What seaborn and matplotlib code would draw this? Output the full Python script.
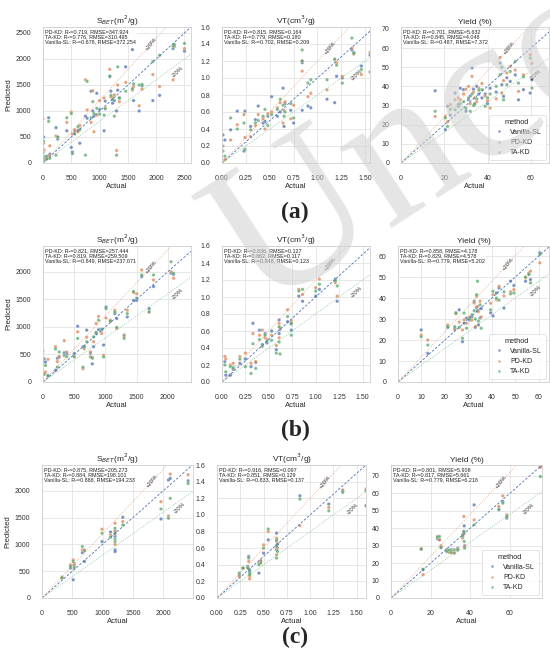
import numpy as np
import pandas as pd
import matplotlib
matplotlib.use('Agg')  # headless
import matplotlib.pyplot as plt
from matplotlib.ticker import MultipleLocator
import seaborn as sns

METHODS = ['Vanilla-SL', 'PD-KD', 'TA-KD']
TEXT_ORDER = ['PD-KD', 'TA-KD', 'Vanilla-SL']
TITLES = ['S$_{BET}$(m$^2$/g)', 'VT(cm$^3$/g)', 'Yield (%)']
ROW_LABELS = ['(a)', '(b)', '(c)']

# ---- row (a) ----
a_bet_act = [0, 10, 20, 60, 100, 120, 230, 260, 420, 500, 520, 560, 620, 650, 750, 780, 850, 880, 900, 950,
             1000, 1080, 1100, 1180, 1200, 1230, 1260, 1300, 1320, 1350, 1460, 1580, 1600, 1700, 1750, 1940, 2060, 2300, 2320, 2500]
a_bet_van = [200, 500, 120, 80, 870, 170, 680, 460, 620, 300, 210, 610, 630, 380, 900, 860, 1380, 1000, 900, 1340,
             1030, 620, 1190, 1660, 1380, 1150, 1200, 1000, 1400, 1250, 1850, 2180, 1200, 1000, 1480, 1200, 1300, 2200, 2250, 2150]
a_bet_pd = [850, 380, 250, 100, 140, 330, 520, 500, 780, 980, 560, 640, 600, 720, 1600, 1020, 780, 1390, 600, 920,
            1200, 1250, 1060, 1800, 1270, 1260, 1310, 240, 1500, 1180, 1550, 1400, 1470, 1100, 1420, 1700, 1470, 1600, 2240, 2200]
a_bet_ta = [100, 420, 60, 130, 800, 90, 150, 500, 870, 950, 180, 560, 700, 640, 150, 1570, 870, 1180, 950, 1050,
            940, 920, 1040, 1670, 1300, 1220, 900, 150, 1850, 1250, 1380, 1430, 1520, 1500, 1510, 1950, 2070, 2250, 2280, 2300]
a_bet_r2 = [0.719, 0.776, 0.678]
a_bet_rmse = [347.924, 310.495, 372.254]

a_vt_act = [0.01, 0.03, 0.09, 0.16, 0.23, 0.24, 0.30, 0.35, 0.38, 0.43, 0.45, 0.48, 0.52, 0.58, 0.61, 0.64,
            0.65, 0.66, 0.72, 0.75, 0.84, 0.84, 0.90, 0.93, 1.10, 1.18, 1.20, 1.26, 1.36, 1.38, 1.46, 1.55]
a_vt_van = [0.33, 0.27, 0.39, 0.61, 0.14, 0.61, 0.43, 0.51, 0.67, 0.47, 0.49, 0.55, 0.78, 0.55, 0.60, 0.88,
            0.43, 0.70, 0.62, 0.47, 1.18, 0.62, 0.67, 0.65, 0.75, 0.71, 1.02, 1.00, 1.33, 1.30, 1.14, 1.27]
a_vt_pd = [0.20, 0.04, 0.27, 0.45, 0.57, 0.30, 0.31, 0.44, 0.57, 0.52, 0.40, 0.58, 0.60, 0.65, 0.71, 0.47,
           0.62, 0.72, 0.52, 0.68, 1.08, 1.20, 0.78, 0.82, 0.86, 1.22, 1.18, 1.02, 1.35, 1.28, 1.04, 1.30]
a_vt_ta = [0.14, 0.08, 0.53, 0.40, 0.47, 0.16, 0.39, 0.47, 0.50, 0.55, 0.63, 0.44, 0.57, 0.63, 0.75, 0.68,
           0.55, 0.60, 0.70, 0.53, 1.33, 1.20, 0.94, 0.98, 0.98, 1.22, 1.15, 0.94, 1.47, 1.29, 1.10, 1.07]
a_vt_r2 = [0.815, 0.779, 0.702]
a_vt_rmse = [0.164, 0.180, 0.209]

a_yield_act = [15.8, 20.5, 21.5, 22.8, 25.0, 26.5, 27.4, 28.9, 30.0, 31.2, 32.0, 32.8, 33.5, 34.0, 35.0, 36.0,
               37.4, 38.9, 40.0, 41.2, 44.0, 45.8, 46.6, 47.4, 48.9, 50.5, 52.8, 54.3, 56.6, 59.7, 60.5]
a_yield_van = [37.7, 17.4, 29.6, 25.0, 36.5, 30.5, 39.0, 38.3, 27.0, 33.0, 35.0, 49.6, 38.5, 30.5, 40.0, 36.0,
               34.0, 36.0, 31.0, 39.0, 37.0, 52.2, 40.9, 34.8, 44.5, 42.6, 46.0, 33.0, 38.3, 36.5, 43.5]
a_yield_pd = [24.3, 24.3, 21.5, 30.5, 33.0, 34.0, 33.0, 36.0, 38.5, 40.0, 31.0, 45.2, 37.0, 34.0, 32.0, 39.0,
              41.5, 35.0, 32.5, 28.7, 33.5, 55.1, 36.5, 43.0, 47.0, 50.4, 48.5, 37.4, 46.0, 56.5, 52.0]
a_yield_ta = [27.0, 23.5, 19.1, 28.0, 27.8, 29.5, 31.0, 32.0, 28.5, 34.0, 27.0, 36.0, 30.0, 31.0, 33.5, 38.0,
              38.3, 29.6, 34.0, 36.0, 40.0, 46.1, 50.0, 33.0, 40.9, 47.8, 53.0, 41.7, 45.0, 54.8, 39.1]
a_yield_r2 = [0.701, 0.845, 0.487]
a_yield_rmse = [5.632, 4.048, 7.372]

# ---- row (b) ----
b_bet_act = [0, 20, 40, 80, 200, 230, 260, 340, 380, 500, 555, 640, 660, 700, 760, 790, 810, 850, 890, 940,
             970, 1010, 1080, 1150, 1180, 1300, 1350, 1450, 1500, 1580, 1700, 1770, 2050, 2090]
b_bet_van = [380, 420, 360, 120, 210, 430, 460, 530, 515, 515, 1010, 640, 630, 940, 520, 330, 640, 880, 950, 940,
             670, 1360, 1120, 1240, 1150, 850, 1180, 1480, 1480, 1910, 1330, 1730, 1970, 1950]
b_bet_pd = [560, 150, 180, 410, 640, 370, 450, 750, 545, 470, 910, 240, 600, 810, 545, 450, 730, 1060, 1190, 880,
            485, 1160, 1110, 1300, 970, 830, 1300, 1620, 1600, 2030, 1270, 1850, 2000, 1880]
b_bet_ta = [430, 140, 300, 110, 600, 270, 545, 480, 460, 455, 790, 270, 640, 730, 455, 430, 820, 900, 1120, 960,
            455, 1330, 1100, 1270, 990, 790, 1240, 1640, 1520, 1940, 1270, 1940, 2180, 1970]
b_bet_r2 = [0.821, 0.819, 0.849]
b_bet_rmse = [257.444, 259.509, 237.071]

b_vt_act = [0.03, 0.04, 0.09, 0.12, 0.19, 0.25, 0.31, 0.33, 0.36, 0.40, 0.43, 0.46, 0.48, 0.53,
            0.58, 0.61, 0.61, 0.62, 0.70, 0.74, 0.74, 0.82, 0.86, 1.00, 1.04, 1.21, 1.23]
b_vt_van = [0.24, 0.08, 0.08, 0.15, 0.22, 0.27, 0.18, 0.69, 0.23, 0.61, 0.44, 0.57, 0.46, 0.60,
            0.38, 0.73, 0.57, 0.62, 0.71, 0.61, 0.68, 1.01, 0.95, 1.01, 1.09, 1.21, 0.95]
b_vt_pd = [0.30, 0.27, 0.20, 0.22, 0.30, 0.34, 0.22, 0.57, 0.24, 0.55, 0.61, 0.52, 0.50, 0.55,
           0.43, 0.69, 0.52, 0.64, 0.85, 0.69, 0.72, 1.09, 1.03, 1.11, 1.21, 1.17, 1.01]
b_vt_ta = [0.20, 0.12, 0.18, 0.17, 0.27, 0.18, 0.10, 0.45, 0.16, 0.50, 0.42, 0.55, 0.48, 0.49,
           0.34, 0.65, 0.47, 0.33, 0.77, 0.55, 0.69, 1.07, 1.09, 1.07, 1.15, 1.19, 1.13]
b_vt_r2 = [0.836, 0.862, 0.848]
b_vt_rmse = [0.127, 0.117, 0.123]

b_yield_act = [9.9, 12.7, 21.2, 24.2, 24.7, 26.1, 27.5, 28.2, 29.2, 30.5, 31.5, 32.5, 33.0, 33.5, 33.9,
               34.3, 35.0, 35.5, 39.5, 40.5, 42.0, 43.1, 45.2, 48.0, 49.4, 54.4, 55.8, 56.5, 60.5]
b_yield_van = [24.8, 13.6, 26.0, 25.5, 33.0, 34.4, 19.2, 28.0, 30.4, 29.5, 31.0, 38.4, 26.0, 35.5, 34.0,
               27.2, 30.5, 35.0, 33.0, 31.5, 42.4, 44.8, 35.2, 48.0, 46.0, 48.0, 51.5, 48.8, 61.6]
b_yield_pd = [22.4, 20.0, 27.2, 25.0, 32.5, 28.5, 24.8, 29.6, 28.0, 31.0, 29.5, 37.6, 26.4, 40.8, 36.0,
              33.5, 38.5, 31.0, 37.5, 41.6, 39.2, 45.6, 41.0, 43.0, 44.0, 49.6, 52.0, 52.8, 56.8]
b_yield_ta = [21.6, 17.6, 26.4, 26.4, 32.8, 26.0, 20.8, 32.8, 25.6, 30.0, 32.0, 34.0, 30.0, 41.6, 48.0,
              29.0, 36.8, 25.6, 34.4, 43.2, 40.0, 39.0, 43.0, 42.0, 42.4, 50.0, 51.2, 47.2, 60.8]
b_yield_r2 = [0.858, 0.829, 0.779]
b_yield_rmse = [4.178, 4.578, 5.202]

# ---- row (c) ----
c_bet_act = [329, 470, 515, 532, 665, 700, 990, 1130, 1205, 1205, 1205, 1205, 1332, 1962, 2085, 2115, 2410]
c_bet_van = [380, 557, 340, 600, 848, 681, 1052, 1230, 1238, 1150, 898, 867, 1505, 1474, 2200, 2230, 2186]
c_bet_pd = [390, 620, 712, 638, 898, 898, 1282, 1176, 1393, 1250, 1000, 1200, 1424, 1796, 1529, 2310, 2300]
c_bet_ta = [372, 588, 681, 560, 960, 880, 1207, 1133, 1300, 1205, 1052, 1100, 1362, 1659, 1486, 1858, 2136]
c_bet_r2 = [0.875, 0.884, 0.888]
c_bet_rmse = [205.273, 198.101, 194.233]

c_vt_act = [0.24, 0.28, 0.33, 0.34, 0.35, 0.35, 0.45, 0.47, 0.50, 0.55, 0.64, 0.64, 0.64, 0.65, 0.89, 1.20, 1.35, 1.60]
c_vt_van = [0.28, 0.36, 0.38, 0.50, 0.34, 0.30, 0.30, 0.44, 0.54, 0.70, 0.78, 0.58, 0.63, 0.65, 1.23, 1.13, 1.29, 1.11]
c_vt_pd = [0.26, 0.36, 0.36, 0.44, 0.26, 0.23, 0.42, 0.45, 0.64, 0.80, 0.72, 0.52, 0.68, 0.60, 0.87, 1.09, 1.30, 1.31]
c_vt_ta = [0.30, 0.36, 0.36, 0.48, 0.32, 0.28, 0.40, 0.42, 0.60, 0.83, 0.70, 0.62, 0.48, 0.56, 1.19, 1.05, 1.27, 1.29]
c_vt_r2 = [0.916, 0.851, 0.833]
c_vt_rmse = [0.097, 0.129, 0.137]

c_yield_act = [15.3, 16.2, 23.5, 24.5, 25.3, 28.2, 29.5, 30.5, 32.0, 33.7, 36.2, 36.8, 37.0, 37.2, 42.0, 54.5, 56.5, 58.5, 75.5]
c_yield_van = [28.0, 16.2, 34.0, 33.4, 29.0, 27.7, 26.5, 27.7, 26.0, 28.6, 36.3, 38.0, 41.4, 30.0, 53.4, 51.0, 55.3, 45.8, 75.4]
c_yield_pd = [28.3, 13.4, 35.3, 33.4, 30.0, 27.0, 26.1, 27.0, 25.8, 28.0, 34.4, 46.8, 37.0, 29.6, 44.8, 52.5, 58.6, 47.7, 75.0]
c_yield_ta = [28.0, 16.5, 35.0, 35.3, 29.0, 26.7, 27.5, 26.0, 27.7, 27.5, 35.5, 38.2, 32.4, 28.6, 42.0, 50.6, 54.4, 46.8, 69.7]
c_yield_r2 = [0.801, 0.817, 0.779]
c_yield_rmse = [5.908, 5.661, 6.218]

ROWS = [
    [(a_bet_act, a_bet_van, a_bet_pd, a_bet_ta, a_bet_r2, a_bet_rmse),
     (a_vt_act, a_vt_van, a_vt_pd, a_vt_ta, a_vt_r2, a_vt_rmse),
     (a_yield_act, a_yield_van, a_yield_pd, a_yield_ta, a_yield_r2, a_yield_rmse)],
    [(b_bet_act, b_bet_van, b_bet_pd, b_bet_ta, b_bet_r2, b_bet_rmse),
     (b_vt_act, b_vt_van, b_vt_pd, b_vt_ta, b_vt_r2, b_vt_rmse),
     (b_yield_act, b_yield_van, b_yield_pd, b_yield_ta, b_yield_r2, b_yield_rmse)],
    [(c_bet_act, c_bet_van, c_bet_pd, c_bet_ta, c_bet_r2, c_bet_rmse),
     (c_vt_act, c_vt_van, c_vt_pd, c_vt_ta, c_vt_r2, c_vt_rmse),
     (c_yield_act, c_yield_van, c_yield_pd, c_yield_ta, c_yield_r2, c_yield_rmse)],
]

# layout (pixel boxes: left, top, right, bottom) and axis limits
BOXES = [
    [(43, 27, 191, 163), (222, 27, 370, 163), (401, 27, 549, 163)],
    [(43, 246, 191, 382), (222, 246, 370, 382), (398, 246, 549, 382)],
    [(42, 465, 193, 598), (217, 465, 366, 598), (391, 465, 542, 598)],
]
LIMS = [
    [(2615, 2615), (1.55, 1.6), (68.4, 71)],
    [(2370, 2465), (1.58, 1.6), (64.4, 64.8)],
    [(2490, 2480), (1.6, 1.6), (76.3, 76.3)],
]
STEPS = [
    [(500, 500), (0.25, 0.2), (20, 10)],
    [(500, 500), (0.25, 0.2), (10, 10)],
    [(500, 500), (0.25, 0.2), (20, 10)],
]
LABEL_Y = [212, 430, 637]

sns.set_theme(style='whitegrid', rc={
    'axes.edgecolor': '#cfcfcf', 'axes.linewidth': 0.6,
    'grid.color': '#e3e3e3', 'grid.linewidth': 0.6,
    'xtick.color': '#333333', 'ytick.color': '#333333',
})
plt.rcParams['font.family'] = ['Liberation Sans', 'DejaVu Sans']
pal = sns.color_palette('deep', 3)
PAL = dict(zip(METHODS, pal))

W, H = 550, 657
fig = plt.figure(figsize=(5.5, 6.57), dpi=100)


def draw_panel(ax, act, van, pd_, ta, r2, rmse, title, lims, steps, first, last):
    df = pd.DataFrame({
        'Actual': act * 3,
        'Predicted': van + pd_ + ta,
        'method': [m for m in METHODS for _ in act],
    })
    sns.scatterplot(data=df, x='Actual', y='Predicted', hue='method', hue_order=METHODS,
                    palette=PAL, s=6, alpha=0.75, linewidth=0.2, edgecolor='white',
                    ax=ax, legend=last)
    xm, ym = lims
    xs = np.array([0, xm])
    ax.plot(xs, xs, ls='--', color=pal[0], lw=0.6, dashes=(3, 2))  # y=x
    ax.plot(xs, 1.2 * xs, ls=':', color=pal[1], lw=0.6, alpha=0.7)  # +20
    ax.plot(xs, 0.8 * xs, ls=':', color=pal[2], lw=0.6, alpha=0.7)  # -20
    x1 = 0.73 * xm
    ax.text(x1, 1.2 * x1, '+20%', fontsize=4.3, rotation=52, ha='center', va='center', color='#333333')
    x2 = 0.91 * xm
    ax.text(x2, 0.8 * x2 - 0.055 * ym, '-20%', fontsize=4.3, rotation=45, ha='center', va='center', color='#333333')

    by = dict(zip(TEXT_ORDER, zip(r2, rmse)))
    lines = [f'{m}: R\u00b2={by[m][0]:.3f}, RMSE={by[m][1]:.3f}' for m in TEXT_ORDER]
    ax.text(0.015, 0.985, '\n'.join(lines), transform=ax.transAxes, va='top', ha='left',
            fontsize=3.9, linespacing=1.05, color='#222222',
            bbox=dict(facecolor='white', edgecolor='none', alpha=0.8, pad=0.6))

    ax.set_xlim(0, xm)
    ax.set_ylim(0, ym)
    ax.xaxis.set_major_locator(MultipleLocator(steps[0]))
    ax.yaxis.set_major_locator(MultipleLocator(steps[1]))
    ax.tick_params(labelsize=5, pad=2.5)
    ax.set_title(title, fontsize=6, pad=2.5)
    ax.set_xlabel('Actual', fontsize=5.5, labelpad=1)
    ax.set_ylabel('Predicted' if first else '', fontsize=5.5, labelpad=2)
    if last:
        leg = ax.legend(loc='lower right', title='method', fontsize=5, title_fontsize=5.3,
                        markerscale=0.8, frameon=True, handletextpad=0.6, borderpad=0.5,
                        labelspacing=0.45)
        leg.get_frame().set_linewidth(0.5)
        leg.get_frame().set_edgecolor('#cfcfcf')


for i, row in enumerate(ROWS):
    for j, (act, van, pd_, ta, r2, rmse) in enumerate(row):
        l, t, r, b = BOXES[i][j]
        ax = fig.add_axes([l / W, 1 - b / H, (r - l) / W, (b - t) / H])
        draw_panel(ax, act, van, pd_, ta, r2, rmse, TITLES[j], LIMS[i][j], STEPS[i][j], j == 0, j == 2)
    fig.text(295 / W, 1 - LABEL_Y[i] / H, ROW_LABELS[i], ha='center', va='center', fontsize=17,
             fontweight='bold', family=['Liberation Serif', 'DejaVu Serif'])

# watermark
fig.text(262 / W, 1 - 312 / H, 'Uncorrected Proof', fontsize=150, family=['Liberation Serif', 'DejaVu Serif'],
         color='#d0d0d0', alpha=0.55, rotation=33, rotation_mode='anchor', ha='left', va='baseline', zorder=10)

fig.savefig('out.png', dpi=100)
plt.close()
